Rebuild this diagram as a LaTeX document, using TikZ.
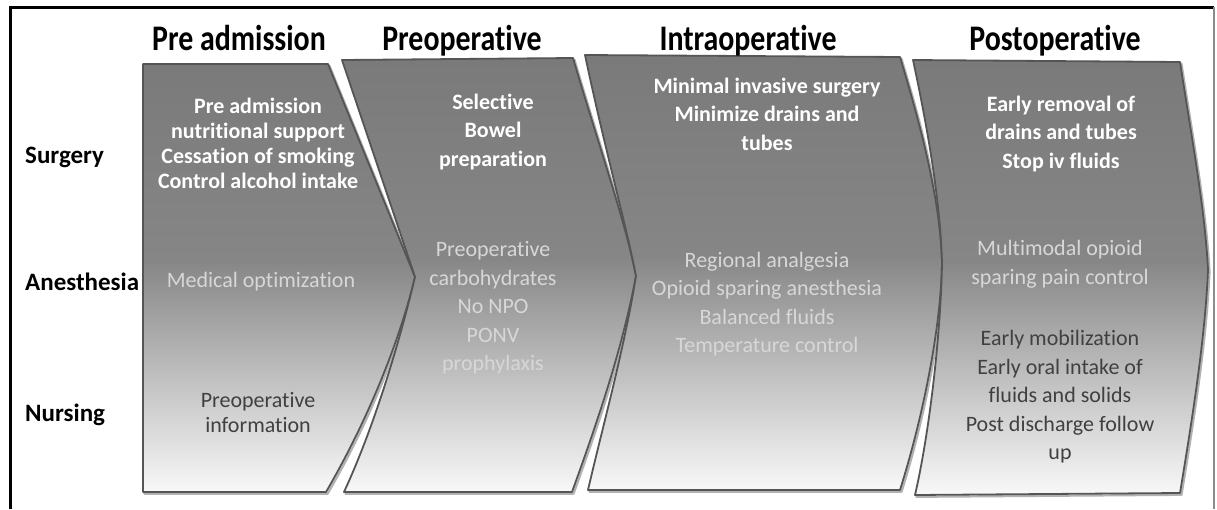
\documentclass[tikz,border=0pt]{standalone}
\usepackage{fontspec}
\setmainfont[Ligatures=NoCommon]{Carlito}
\newfontfamily\hdrfont[FakeStretch=0.83,Ligatures=NoCommon]{Carlito}
\definecolor{topgray}{RGB}{122,122,122}
\definecolor{midgray}{RGB}{134,134,134}
\definecolor{lowgray}{RGB}{185,185,185}
\definecolor{botgray}{RGB}{248,248,248}
\definecolor{anesgray}{RGB}{215,215,215}
\definecolor{nursgray}{RGB}{64,64,64}
\definecolor{edgegray}{RGB}{85,85,85}
\pgfdeclareverticalshading{chevshade}{100bp}{color(0bp)=(botgray); color(25bp)=(botgray); color(40bp)=(lowgray); color(52bp)=(midgray); color(75bp)=(topgray); color(100bp)=(topgray)}
\tikzset{
  chev/.style={draw=edgegray, line width=1.8pt, shade, shading=chevshade, line join=round},
  chevshadow/.style={draw=black!30, line width=2.2pt, line join=round, shift={(1.5,1.8)}},
  hdr/.style={font=\hdrfont\fontsize{36}{40}\selectfont\bfseries, anchor=base, inner sep=0pt},
  lbl/.style={font=\fontsize{25}{29}\selectfont\bfseries, anchor=base west, inner sep=0pt},
  surg/.style={text=white, font=\fontsize{22}{28.5}\selectfont\bfseries, align=center, inner sep=0pt},
  anes/.style={text=anesgray, font=\fontsize{22}{28.5}\selectfont, align=center, inner sep=0pt},
  nurs/.style={text=nursgray, font=\fontsize{22}{28.5}\selectfont, align=center, inner sep=0pt}
}
\newcommand{\chevA}{(143,64) -- (328,64) -- (415,277) .. controls (400,340) and (368,420) .. (326,492) -- (143,492) -- cycle}
\newcommand{\chevB}{(342,60) -- (573,58) .. controls (600,150) and (625,220) .. (636,276) .. controls (622,350) and (598,420) .. (572,492) -- (344,492) .. controls (375,425) and (400,340) .. (415,277) -- cycle}
\newcommand{\chevC}{(585,55) -- (900,57) .. controls (922,130) and (940,200) .. (942,262) .. controls (941,330) and (922,420) .. (900,490) -- (588,490) .. controls (603,425) and (624,350) .. (636,276) .. controls (625,220) and (605,150) .. cycle}
\newcommand{\chevD}{(913,60) -- (1180,62) .. controls (1192,140) and (1205,210) .. (1208,270) .. controls (1205,340) and (1192,420) .. (1180,493) -- (915,495) .. controls (930,430) and (941,330) .. (942,262) .. controls (940,200) and (928,130) .. cycle}
\begin{document}
\begin{tikzpicture}[x=1pt,y=-1pt]
\useasboundingbox (0,0) rectangle (1217,509);
\fill[white] (0,0) rectangle (1217,509);
% frame
\draw[line width=3pt] (10,509) -- (10,7) -- (1214,7);
\draw[line width=1.5pt, black!45] (1214,7) -- (1214,509);
% chevron shadows
\draw[chevshadow] \chevA;
\draw[chevshadow] \chevB;
\draw[chevshadow] \chevC;
\draw[chevshadow] \chevD;
% chevrons
\path[chev] \chevA;
\path[chev] \chevB;
\path[chev] \chevC;
\path[chev] \chevD;
% headers
\node[hdr] (h1) at (239,50) {Pre admission};
\node[hdr] (h2) at (462,50) {Preoperative};
\node[hdr] (h3) at (748,50) {Intraoperative};
\node[hdr] (h4) at (1055,50) {Postoperative};
% row labels
\node[lbl] (rs) at (25,163) {Surgery};
\node[lbl] (ra) at (25,290) {Anesthesia};
\node[lbl] (rn) at (25,421) {Nursing};
% column 1
\node[surg, font=\fontsize{22}{25}\selectfont\bfseries] (s1) at (258,143) {Pre admission\\nutritional support\\Cessation of smoking\\Control alcohol intake};
\node[anes] (a1) at (261,282) {Medical optimization};
\node[nurs, font=\fontsize{22}{25}\selectfont] (n1) at (258,413) {Preoperative\\information};
% column 2
\node[surg] (s2) at (493,132) {Selective\\Bowel\\preparation};
\node[anes] (a2) at (493,308) {Preoperative\\carbohydrates\\No NPO\\PONV\\prophylaxis};
% column 3
\node[surg] (s3) at (767,114) {Minimal invasive surgery\\Minimize drains and\\tubes};
\node[anes] (a3) at (767,304) {Regional analgesia\\Opioid sparing anesthesia\\Balanced fluids\\Temperature control};
% column 4
\node[surg] (s4) at (1061,134) {Early removal of\\drains and tubes\\Stop iv fluids};
\node[anes] (a4) at (1060,264) {Multimodal opioid\\sparing pain control};
\node[nurs] (n4) at (1060,397) {Early mobilization\\Early oral intake of\\fluids and solids\\Post discharge follow\\up};
\end{tikzpicture}
\end{document}
